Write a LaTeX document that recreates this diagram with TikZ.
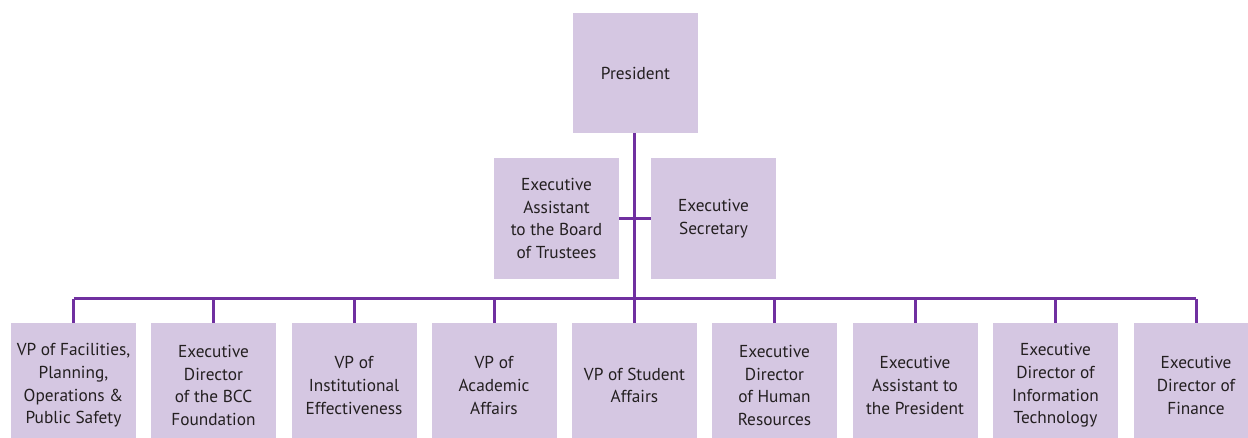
\documentclass[tikz,border=0pt]{standalone}
\usepackage{fontspec}
\setmainfont{PT Sans}
\definecolor{boxfill}{HTML}{D5C7E2}
\definecolor{linec}{HTML}{7030A0}
\definecolor{txt}{HTML}{231F20}
\tikzset{
  orgbox/.style={fill=boxfill, draw=none, minimum width=125pt, inner sep=0pt, align=center, text=txt,
    font=\fontsize{17.3}{22.6}\selectfont},
  topbox/.style={orgbox, minimum height=120pt},
  midbox/.style={orgbox, minimum height=121pt},
  lowbox/.style={orgbox, minimum height=125pt},
  conn/.style={draw=linec, line width=3pt}
}
\begin{document}
\begin{tikzpicture}[x=1pt,y=-1pt]
\useasboundingbox (0,0) rectangle (1248,438);
\begin{scope}
\clip (0,0) rectangle (1248,438);
\node[topbox] (pres) at (635.5,73) {President};
\node[midbox] (eab) at (556.5,218.5) {Executive\\Assistant\\to the Board\\of Trustees};
\node[midbox] (es) at (713.5,218.5) {Executive\\Secretary};
\coordinate (busL) at (73.5,299);
\coordinate (busR) at (1196,299);
\coordinate (busC) at (634.5,299);
\node[lowbox] (b1) at (73.5,385.5) {VP of Facilities,\\Planning,\\Operations \&\\Public Safety};
\node[lowbox] (b2) at (213.5,385.5) {Executive\\Director\\of the BCC\\Foundation};
\node[lowbox] (b3) at (354,385.5) {VP of\\Institutional\\Effectiveness};
\node[lowbox] (b4) at (494,385.5) {VP of\\Academic\\Affairs};
\node[lowbox] (b5) at (634.5,385.5) {VP of Student\\Affairs};
\node[lowbox] (b6) at (774.5,385.5) {Executive\\Director\\of Human\\Resources};
\node[lowbox] (b7) at (915,385.5) {Executive\\Assistant to\\the President};
\node[lowbox] (b8) at (1055.5,385.5) {Executive\\Director of\\Information\\Technology};
\node[lowbox] (b9) at (1196,385.5) {Executive\\Director of\\Finance};
\coordinate (pb) at (pres.south -| busC);
\draw[conn] (pb) -- (busC);
\draw[conn] (eab.east) -- (es.west);
\draw[conn] (busL) -- (busR);
\foreach \n in {b1,b2,b3,b4,b5,b6,b7,b8,b9}{
  \draw[conn] (\n.north |- busC) -- (\n.north);
}
\end{scope}
\end{tikzpicture}
\end{document}
